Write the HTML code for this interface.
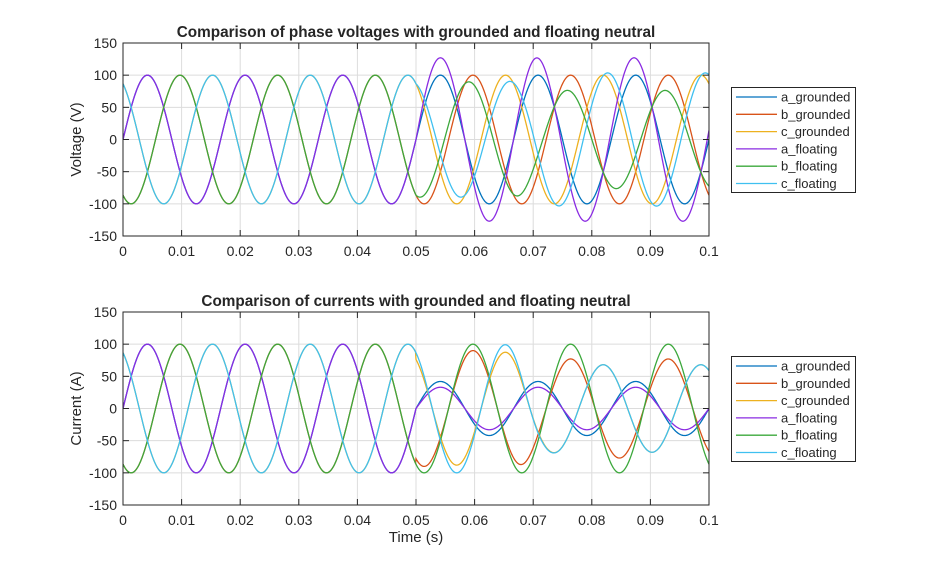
<!DOCTYPE html>
<html><head><meta charset="utf-8"><style>
body{margin:0;background:#fff;}
svg{display:block;font-family:"Liberation Sans",Arial,sans-serif;}
</style></head><body>
<svg id="s" width="946" height="569" xmlns="http://www.w3.org/2000/svg"></svg>
<script>
const S=document.getElementById('s');
const X0=123,X1=709,W=X1-X0;
const w=2*Math.PI*60;
const col={ag:'#0072BD',bg:'#D95319',cg:'#EDB120',af:'#8A2BE2',bf:'#3CA83C',cf:'#3FC0F0'};
let h='';
function sinp(amp,ph,t){return amp*Math.sin(w*t+ph);}
const P=2*Math.PI/3;
function sw(t){return 1/(1+Math.exp(-(t-0.0695)/0.0012));}
function volt(k,t){
 const ph={a:0,b:-P,c:P}[k[0]];
 let g=sinp(100,ph,t);
 if(k[1]=='g'||t<0.05) return g;
 const s=sw(t);
 const Vx=27*(1-s)+26.2*s, Vy=0*(1-s)+14.1*s;
 return g+Vx*Math.sin(w*t)+Vy*Math.cos(w*t);
}
function curr(k,t){
 const ph={a:0,b:-P,c:P}[k[0]];
 if(t<0.05) return sinp(100,ph,t);
 const a0={ag:42,bg:90,cg:88,af:33,bf:100,cf:100}[k];
 const as={ag:42,bg:77,cg:68,af:33,bf:100,cf:68}[k];
 const s=sw(t);
 const A=a0*(1-s)+as*s;
 return sinp(A,ph,t);
}
function axes(Y0,Y1,title,ylabel,fn,legY,xlabel){
 const H=Y1-Y0;
 const yp=v=>Y0+(150-v)/300*H;
 const xp=t=>X0+t/0.1*W;
 h+=`<rect x="${X0}" y="${Y0}" width="${W}" height="${H}" fill="#fff"/>`;
 for(let i=1;i<10;i++){const x=xp(i*0.01);h+=`<line x1="${x}" y1="${Y0}" x2="${x}" y2="${Y1}" stroke="#dcdcdc" stroke-width="1"/>`;}
 for(let v=-100;v<=100;v+=50){const y=yp(v);h+=`<line x1="${X0}" y1="${y}" x2="${X1}" y2="${y}" stroke="#dcdcdc" stroke-width="1"/>`;}
 h+=`<clipPath id="c${Y0}"><rect x="${X0}" y="${Y0}" width="${W}" height="${H}"/></clipPath><g clip-path="url(#c${Y0})">`;
 for(const k of ['ag','bg','cg','af','bf','cf']){
  let d='';
  for(let i=0;i<=1200;i++){const t=i/1200*0.1;d+=(i?'L':'M')+xp(t).toFixed(2)+' '+yp(fn(k,t)).toFixed(2);}
  h+=`<path d="${d}" fill="none" stroke="${col[k]}" stroke-width="1.3"/>`;
 }
 h+='</g>';
 h+=`<rect x="${X0}" y="${Y0}" width="${W}" height="${H}" fill="none" stroke="#262626" stroke-width="1"/>`;
 for(let i=0;i<=10;i++){const x=xp(i*0.01);
  h+=`<line x1="${x}" y1="${Y1}" x2="${x}" y2="${Y1-6}" stroke="#262626"/><line x1="${x}" y1="${Y0}" x2="${x}" y2="${Y0+6}" stroke="#262626"/>`;
  const lab=i==0?'0':i==10?'0.1':'0.0'+i;
  h+=`<text x="${x}" y="${Y1+20}" font-size="14" text-anchor="middle" fill="#262626">${lab}</text>`;}
 for(let v=-150;v<=150;v+=50){const y=yp(v);
  h+=`<line x1="${X0}" y1="${y}" x2="${X0+6}" y2="${y}" stroke="#262626"/><line x1="${X1}" y1="${y}" x2="${X1-6}" y2="${y}" stroke="#262626"/>`;
  h+=`<text x="${X0-6}" y="${y+5}" font-size="14" text-anchor="end" fill="#262626">${v}</text>`;}
 h+=`<text x="416" y="${Y0-6}" font-size="15.3" font-weight="bold" text-anchor="middle" fill="#262626">${title}</text>`;
 const cy=(Y0+Y1)/2;
 h+=`<text transform="translate(81,${cy}) rotate(-90)" font-size="15" text-anchor="middle" fill="#262626">${ylabel}</text>`;
 if(xlabel) h+=`<text x="416" y="${Y1+37}" font-size="15" text-anchor="middle" fill="#262626">${xlabel}</text>`;
 h+=`<rect x="731.5" y="${legY+0.5}" width="124" height="105" fill="#fff" stroke="#262626"/>`;
 const names=['a_grounded','b_grounded','c_grounded','a_floating','b_floating','c_floating'];
 ['ag','bg','cg','af','bf','cf'].forEach((k,i)=>{const y=legY+10+i*17.3;
  h+=`<line x1="736" y1="${y}" x2="777" y2="${y}" stroke="${col[k]}" stroke-width="1.3"/>`;
  h+=`<text x="781" y="${y+4.5}" font-size="13" fill="#262626">${names[i]}</text>`;});
}
axes(43,236,'Comparison of phase voltages with grounded and floating neutral','Voltage (V)',volt,87,null);
axes(312,505,'Comparison of currents with grounded and floating neutral','Current (A)',curr,356,'Time (s)');
S.innerHTML=h;
</script>
</body></html>
